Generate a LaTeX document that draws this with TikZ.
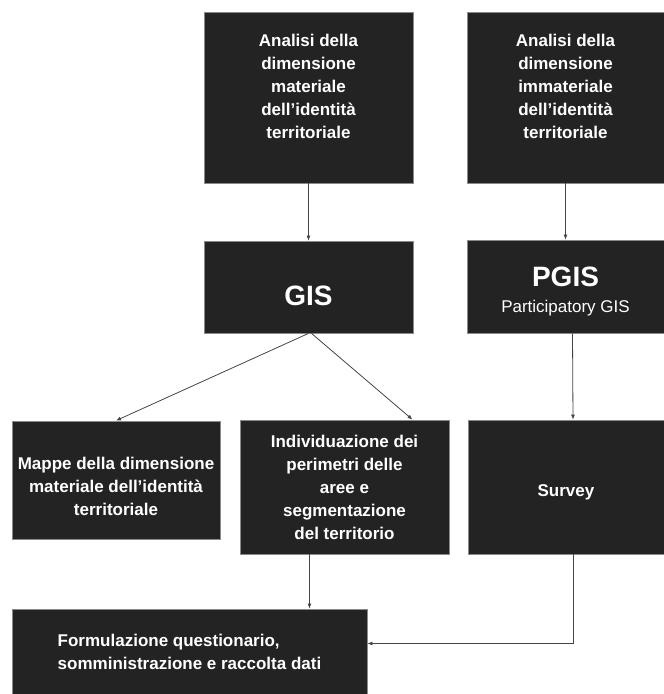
\documentclass[tikz,border=0pt]{standalone}
\usepackage{fontspec}
\setmainfont{Liberation Sans}
\usepackage{tikz}
\usetikzlibrary{arrows.meta,positioning,calc}
\definecolor{Ink}{HTML}{232323}
\definecolor{Edge}{HTML}{8A8A8A}
\definecolor{Wire}{HTML}{444444}
\tikzset{
  blk/.style={draw=Edge,fill=Ink,line width=.8pt,text=white,align=center,inner sep=4pt,font=\fontsize{17}{23}\selectfont\bfseries},
  bigblk/.style={blk,font=\fontsize{28}{30}\selectfont\bfseries},
  flow/.style={-{Latex[length=5pt,width=4pt]},draw=Wire,line width=.8pt}
}
\begin{document}
\begin{tikzpicture}[x=1pt,y=-1pt]
  \useasboundingbox (0,0) rectangle (664,694);
  \node[blk,minimum width=209pt,minimum height=171pt,text depth=22pt] (mat) at (308.5,97.5) {Analisi della\\dimensione\\materiale\\dell'identità\\territoriale};
  \node[blk,minimum width=197pt,minimum height=171pt,text depth=22pt] (imm) at (565.5,97.5) {Analisi della\\dimensione\\immateriale\\dell'identità\\territoriale};
  \node[bigblk,minimum width=209pt,minimum height=92pt,text height=36pt,text depth=0pt] (gis) at (308.5,287) {GIS};
  \node[blk,minimum width=197pt,minimum height=93pt,text height=55pt,text depth=4pt] (pgis) at (565.5,286.5) {{\fontsize{28}{30}\selectfont PGIS}\\[3pt]{\mdseries Participatory GIS}};
  \node[blk,minimum width=208pt,minimum height=118pt,text height=70pt,text depth=0pt] (mappe) at (116,480) {Mappe della dimensione\\materiale dell'identità\\territoriale};
  \node[blk,minimum width=209pt,minimum height=134pt] (aree) at (344.5,487) {Individuazione dei\\perimetri delle\\aree e\\segmentazione\\del territorio};
  \node[blk,minimum width=196pt,minimum height=134pt,text height=22pt] (survey) at (566,487) {Survey};
  \node[blk,align=left,minimum width=355pt,minimum height=85pt] (quest) at (189.5,651.5) {Formulazione questionario,\\somministrazione e raccolta dati};

  \draw[flow] (mat) -- (gis);
  \draw[flow] (imm) -- (pgis);
  \draw[flow] (gis.south) -- (mappe.north);
  \draw[flow] ([xshift=3pt]gis.south) -- ([xshift=68pt]aree.north);
  \draw[flow] ([xshift=7pt]pgis.south) -- ([xshift=7pt]survey.north);
  \draw[flow] ([xshift=-35pt]aree.south) -- ([xshift=-35pt]aree.south |- quest.north);
  \draw[flow] ([xshift=7pt]survey.south) |- ([yshift=8pt]quest.east);
\end{tikzpicture}
\end{document}
